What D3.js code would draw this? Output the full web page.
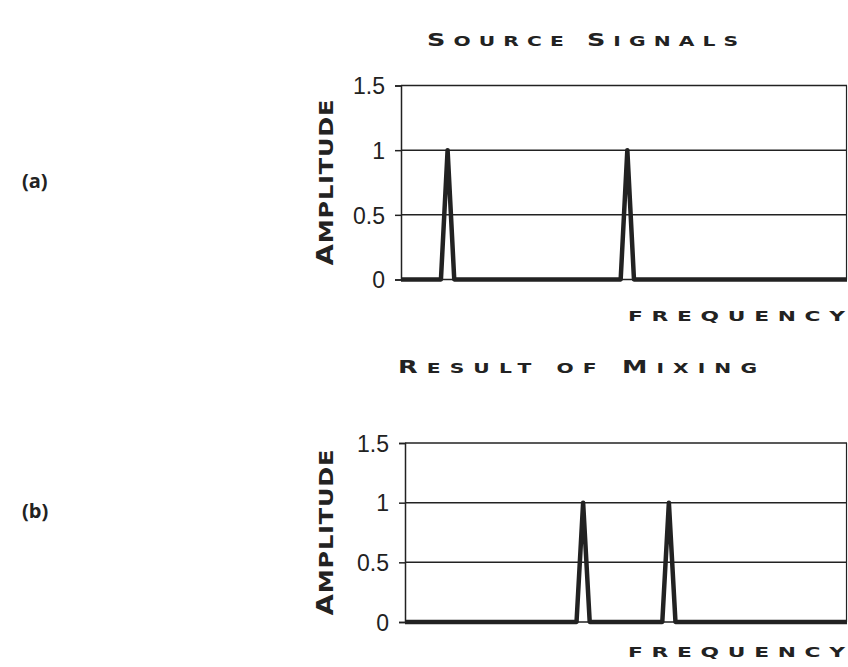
<!DOCTYPE html>
<html><head><meta charset="utf-8">
<script src="https://cdn.jsdelivr.net/npm/d3@7"></script>
<style>body{margin:0;background:#fff}svg{display:block}</style>
</head><body>
<svg id="c" width="848" height="667"></svg>
<script>
// ---- data ----
const yTicks = [0, 0.5, 1, 1.5];
const yTickLabels = ["0", "0.5", "1", "1.5"];
const freqMax = 67;
// (a) source signals
const sourceFreq = [0, 6, 7, 8, 33, 34, 35, 67];
const sourceAmp  = [0, 0, 1, 0, 0, 1, 0, 0];
// (b) result of mixing
const mixFreq = [0, 26, 27, 28, 39, 40, 41, 67];
const mixAmp  = [0, 0, 1, 0, 0, 1, 0, 0];

const panels = [
  {tag: "(a)", title: "SOURCE SIGNALS", xlab: "FREQUENCY", ylab: "AMPLITUDE",
   freq: sourceFreq, amp: sourceAmp, x0: 401, x1: 847, yTop: 85.5, yBot: 279.5,
   titleX: 582.5, titleY: 46, titleW: 311, xlabY: 321, tagY: 188},
  {tag: "(b)", title: "RESULT OF MIXING", xlab: "FREQUENCY", ylab: "AMPLITUDE",
   freq: mixFreq, amp: mixAmp, x0: 405, x1: 847, yTop: 443, yBot: 622,
   titleX: 577.5, titleY: 373, titleW: 359, xlabY: 657, tagY: 518}
];

const svg = d3.select("#c");
const ink = "#222";
const capFont = "'DejaVu Sans', Verdana, sans-serif";
const stretch = 1.5;

function smallCaps(sel, str, big, small) {
  // initial letter of each long word large, the rest small capitals
  str.split(" ").forEach((w, wi) => {
    if (wi > 0) sel.append("tspan").attr("font-size", small).text(" ");
    if (w.length > 2) {
      sel.append("tspan").attr("font-size", big).text(w[0]);
      sel.append("tspan").attr("font-size", small).text(w.slice(1));
    } else {
      sel.append("tspan").attr("font-size", small).text(w);
    }
  });
}

panels.forEach(p => {
  const x = d3.scaleLinear().domain([0, freqMax]).range([p.x0, p.x1]);
  const y = d3.scaleLinear().domain([0, 1.5]).range([p.yBot, p.yTop]);
  const g = svg.append("g");

  // gridlines
  g.selectAll("line.grid").data(yTicks.filter(v => v > 0)).join("line")
    .attr("x1", p.x0).attr("x2", p.x1)
    .attr("y1", d => y(d)).attr("y2", d => y(d))
    .attr("stroke", ink).attr("stroke-width", 1.5);
  // right border
  g.append("line").attr("x1", p.x1 - 0.5).attr("x2", p.x1 - 0.5)
    .attr("y1", y(1.5)).attr("y2", y(0)).attr("stroke", ink).attr("stroke-width", 1.2);

  // y axis
  const ax = d3.axisLeft(y).tickValues(yTicks).tickSize(6).tickPadding(10)
    .tickFormat((d, i) => yTickLabels[i]);
  const axg = g.append("g").attr("transform", `translate(${p.x0},0)`).call(ax);
  axg.select(".domain").attr("stroke", ink).attr("stroke-width", 1.5);
  axg.selectAll(".tick line").attr("stroke", ink).attr("stroke-width", 1.5);
  axg.selectAll(".tick text").attr("font-family", "'Liberation Sans', Arial, sans-serif")
    .attr("font-size", 23).attr("fill", ink).attr("dy", "0.36em");

  // baseline
  g.append("line").attr("x1", p.x0).attr("x2", p.x1).attr("y1", y(0)).attr("y2", y(0))
    .attr("stroke", ink).attr("stroke-width", 1.5);

  // series
  const line = d3.line().x(d => x(d[0])).y(d => y(d[1]));
  g.append("path").datum(p.freq.map((f, i) => [f, p.amp[i]]))
    .attr("d", line).attr("fill", "none").attr("stroke", ink)
    .attr("stroke-width", 4.5).attr("stroke-linejoin", "round");

  // title
  const t = svg.append("text")
    .attr("transform", `translate(${p.titleX},${p.titleY}) scale(${stretch},1)`)
    .attr("text-anchor", "middle").attr("font-family", capFont).attr("font-weight", "bold")
    .attr("fill", ink).attr("textLength", p.titleW / stretch).attr("lengthAdjust", "spacing");
  smallCaps(t, p.title, 17, 13.5);

  // x label
  svg.append("text")
    .attr("transform", `translate(845,${p.xlabY}) scale(${stretch},1)`)
    .attr("text-anchor", "end").attr("font-family", capFont).attr("font-weight", "bold")
    .attr("font-size", 14.5).attr("fill", ink)
    .attr("textLength", 217 / stretch).attr("lengthAdjust", "spacing").text(p.xlab);

  // y label
  const yc = (p.yTop + p.yBot) / 2;
  const yl = svg.append("text")
    .attr("transform", `translate(333,${yc}) rotate(-90) scale(1.2,1)`)
    .attr("text-anchor", "middle").attr("font-family", capFont).attr("font-weight", "bold")
    .attr("fill", ink).attr("textLength", 166 / 1.2).attr("lengthAdjust", "spacing");
  smallCaps(yl, p.ylab, 23, 20);

  // panel tag
  svg.append("text").attr("x", 22).attr("y", p.tagY)
    .attr("font-family", "'Open Sans', sans-serif").attr("font-weight", "bold").attr("font-size", 20)
    .attr("fill", ink).text(p.tag);
});
</script>
</body></html>
